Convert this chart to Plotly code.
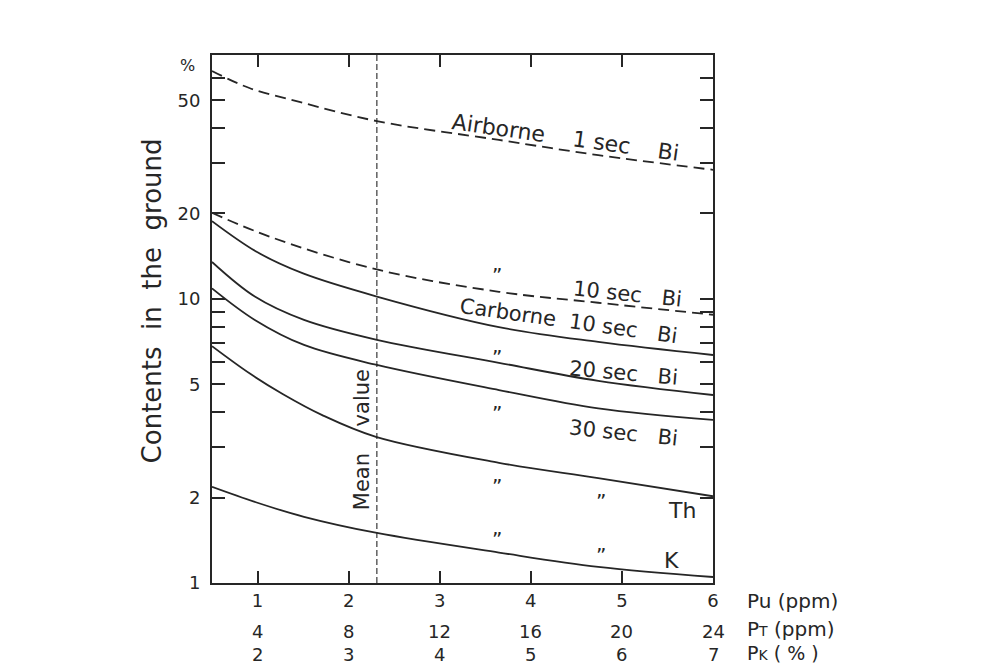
import plotly.graph_objects as go

# ---------------- data ----------------
pu_ticks = [1, 2, 3, 4, 5, 6]
pu_labels = ["1", "2", "3", "4", "5", "6"]
pt_labels = ["4", "8", "12", "16", "20", "24"]
pk_labels = ["2", "3", "4", "5", "6", "7"]

y_major = [1, 2, 5, 10, 20, 50]
y_major_labels = ["1", "2", "5", "10", "20", "50"]
y_minor = [3, 4, 6, 7, 8, 9, 30, 40, 60]

mean_pu = 2.31

air1_x = [0.5, 0.91, 1.46, 2.31, 3.65, 4.74, 6.0]
air1_y = [63.5, 55.3, 49.4, 42.3, 36.3, 32.1, 28.5]

air10_x = [0.5, 1.15, 2.31, 3.65, 4.74, 6.0]
air10_y = [20.1, 16.5, 12.7, 10.6, 9.7, 8.8]

car10_x = [0.5, 1.0, 1.5, 2.31, 3.65, 4.74, 6.0]
car10_y = [18.8, 14.6, 12.3, 10.2, 7.96, 7.06, 6.35]

car20_x = [0.5, 0.97, 1.51, 2.31, 3.65, 4.74, 6.0]
car20_y = [13.5, 10.2, 8.44, 7.18, 5.96, 5.15, 4.59]

car30_x = [0.5, 0.97, 1.51, 2.31, 3.65, 4.74, 6.0]
car30_y = [10.9, 8.44, 6.89, 5.86, 4.78, 4.12, 3.75]

th_x = [0.5, 0.92, 1.28, 1.71, 2.30, 3.65, 4.74, 6.0]
th_y = [6.82, 5.45, 4.62, 3.90, 3.27, 2.65, 2.34, 2.02]

k_x = [0.5, 0.97, 1.51, 2.31, 3.65, 4.74, 6.0]
k_y = [2.18, 1.93, 1.71, 1.50, 1.28, 1.14, 1.05]

# ---------------- figure ----------------
INK = "#262626"
FONT = "DejaVu Sans"

fig = go.Figure()

def add_curve(x, y, dash, name):
    fig.add_trace(go.Scatter(
        x=x, y=y, mode="lines", name=name,
        line=dict(color=INK, width=1.8, dash=dash, shape="spline", smoothing=1.0),
        showlegend=False, hoverinfo="skip"))

DASH = "11px,6px"
add_curve(air1_x, air1_y, DASH, "Airborne 1 sec Bi")
add_curve(air10_x, air10_y, DASH, "Airborne 10 sec Bi")
add_curve(car10_x, car10_y, "solid", "Carborne 10 sec Bi")
add_curve(car20_x, car20_y, "solid", "Carborne 20 sec Bi")
add_curve(car30_x, car30_y, "solid", "Carborne 30 sec Bi")
add_curve(th_x, th_y, "solid", "Carborne Th")
add_curve(k_x, k_y, "solid", "Carborne K")

# mean value line
fig.add_shape(type="line", xref="x", yref="paper", x0=mean_pu, x1=mean_pu, y0=0, y1=1,
              line=dict(color=INK, width=1.1, dash="6px,3px"))

ann = []
def txt(x, ly, s, size=21, angle=0, xref="x", yref="y", xanchor="center", yanchor="middle"):
    ann.append(dict(x=x, y=ly, xref=xref, yref=yref, text=s, showarrow=False,
                    textangle=angle, xanchor=xanchor, yanchor=yanchor,
                    font=dict(family=FONT, size=size, color=INK)))

NB = "\u00a0"
DIT = "\u201d"
# curve labels (y given in log10 units for the log axis)
txt(4.38, 1.568, "Airborne" + NB * 4 + "1 sec" + NB * 4 + "Bi", size=22, angle=8)
txt(3.63, 1.085, DIT, size=20)
txt(5.06, 1.018, "10 sec" + NB * 3 + "Bi", size=21, angle=6)
txt(4.41, 0.922, "Carborne" + NB * 2 + "10 sec" + NB * 3 + "Bi", size=21, angle=8)
txt(3.63, 0.797, DIT, size=20)
txt(5.02, 0.738, "20 sec" + NB * 3 + "Bi", size=21, angle=5)
txt(3.63, 0.600, DIT, size=20)
txt(5.02, 0.527, "30 sec" + NB * 3 + "Bi", size=21, angle=6)
txt(3.63, 0.343, DIT, size=20)
txt(4.77, 0.290, DIT, size=20)
txt(5.66, 0.255, "Th", size=22)
txt(3.63, 0.156, DIT, size=20)
txt(4.77, 0.097, DIT, size=20)
txt(5.54, 0.079, "K", size=22)

# mean value text
txt(2.15, 0.651, "value", size=21, angle=-90)
txt(2.15, 0.356, "Mean", size=21, angle=-90)

# percent sign
txt(-0.048, 0.981, "%", size=16, xref="paper", yref="paper")

# y-axis title
txt(-0.12, 0.535, "Contents" + NB * 2 + "in" + NB * 2 + "the" + NB * 2 + "ground",
    size=26, angle=-90, xref="paper", yref="paper")

# extra x scales (rows 2 and 3)
for xv, s in zip(pu_ticks, pt_labels):
    txt(xv, -0.092, s, size=18, yref="paper")
for xv, s in zip(pu_ticks, pk_labels):
    txt(xv, -0.135, s, size=18, yref="paper")

# unit labels
txt(1.064, -0.034, "Pu (ppm)", size=20, xref="paper", yref="paper", xanchor="left")
txt(1.064, -0.088, "P<span style='font-size:14px'>T</span> (ppm)", size=20,
    xref="paper", yref="paper", xanchor="left")
txt(1.064, -0.133, "P<span style='font-size:14px'>K</span> ( % )", size=19,
    xref="paper", yref="paper", xanchor="left")

fig.update_layout(
    width=973, height=659,
    margin=dict(l=204, r=268, t=47, b=84),
    paper_bgcolor="white", plot_bgcolor="white",
    annotations=ann,
    showlegend=False,
    font=dict(family=FONT, color=INK),
)

fig.update_xaxes(
    range=[0.5, 6.0], tickmode="array", tickvals=pu_ticks, ticktext=pu_labels,
    ticks="inside", ticklen=12, tickwidth=1.5, tickcolor=INK,
    showline=True, linecolor=INK, linewidth=1.8, mirror="ticks",
    showgrid=False, zeroline=False,
    tickfont=dict(family=FONT, size=18, color=INK),
)
fig.update_yaxes(
    type="log", range=[0, 1.859], tickmode="array", tickvals=y_major, ticktext=y_major_labels,
    ticks="inside", ticklen=13, tickwidth=1.5, tickcolor=INK,
    minor=dict(tickmode="array", tickvals=y_minor, ticks="inside", ticklen=13,
               tickwidth=1.5, tickcolor=INK, showgrid=False),
    showline=True, linecolor=INK, linewidth=1.8, mirror="ticks",
    showgrid=False, zeroline=False, ticklabelstandoff=6,
    tickfont=dict(family=FONT, size=18, color=INK),
)

fig.write_html("out.html")
